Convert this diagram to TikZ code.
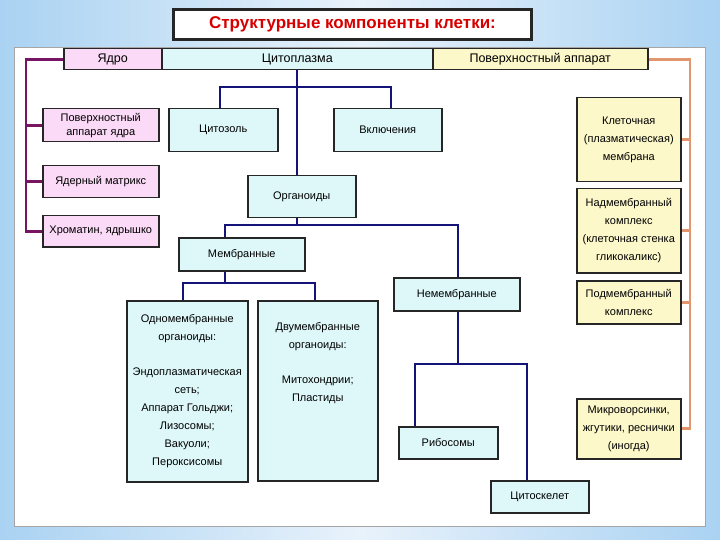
\documentclass[tikz,border=0pt]{standalone}
\usepackage{fontspec}
\setmainfont{Liberation Sans}
\usepackage{xcolor}
\definecolor{bgside}{RGB}{170,210,242}
\definecolor{bgmid}{RGB}{232,242,251}
\definecolor{nucpink}{RGB}{250,218,246}
\definecolor{cytocyan}{RGB}{222,248,250}
\definecolor{surfyellow}{RGB}{252,248,202}
\definecolor{nucpurple}{RGB}{120,20,100}
\definecolor{cytoblue}{RGB}{20,20,120}
\definecolor{surforange}{RGB}{226,150,110}
\definecolor{titlered}{RGB}{215,0,0}

\begin{document}
\begin{tikzpicture}[x=1pt, y=-1pt, thick,
    font=\fontsize{11}{18}\selectfont,
    box/.style={draw=black!85, line width=1.5pt, align=center, inner sep=1pt, anchor=north west},
    pinkbox/.style={box, fill=nucpink},
    cyanbox/.style={box, fill=cytocyan},
    yellowbox/.style={box, fill=surfyellow},
    headbox/.style={font=\fontsize{12.5}{15}\selectfont, minimum height=21pt},
    nucline/.style={draw=nucpurple, line width=2.8pt},
    cytoline/.style={draw=cytoblue, line width=2.8pt},
    surfline/.style={draw=surforange, line width=2.8pt}]
    % background and panel
    \shade[left color=bgside, right color=bgside, middle color=bgmid] (0,0) rectangle (720,540);
    \draw[gray!70, thin, fill=white] (14,47) rectangle (705,526);
    \node[box, fill=white, line width=3pt, minimum width=358pt, minimum height=30pt,
          font=\fontsize{17}{20}\selectfont\bfseries, text=titlered] (title) at (172,8) {Структурные компоненты клетки:};
    % header bar
    \node[pinkbox, headbox, minimum width=98pt] (hdrNuc) at (63,48) {Ядро};
    \node[cyanbox, headbox, minimum width=271pt] (hdrCyto) at (161,48) {Цитоплазма};
    \node[yellowbox, headbox, minimum width=215pt] (hdrSurf) at (432,48) {Поверхностный аппарат};
    % nucleus
    \node[pinkbox, minimum width=116pt, minimum height=33pt, font=\fontsize{11}{14}\selectfont] (nucSurf) at (42,108) {Поверхностный\\аппарат ядра};
    \node[pinkbox, minimum width=116pt, minimum height=32pt] (nucMatrix) at (42,165) {Ядерный матрикс};
    \node[pinkbox, minimum width=116pt, minimum height=31pt] (chromatin) at (42,215) {Хроматин, ядрышко};
    % cytoplasm
    \node[cyanbox, minimum width=109pt, minimum height=43pt] (cytosol) at (168,108) {Цитозоль};
    \node[cyanbox, minimum width=108pt, minimum height=43pt] (inclusions) at (333,108) {Включения};
    \node[cyanbox, minimum width=108pt, minimum height=42pt] (organelles) at (247,175) {Органоиды};
    \node[cyanbox, minimum width=126pt, minimum height=33pt] (membr) at (178,237) {Мембранные};
    \node[cyanbox, minimum width=121pt, minimum height=181pt] (single) at (126,300)
        {Одномембранные\\органоиды:\\[17pt]Эндоплазматическая\\сеть;\\Аппарат Гольджи;\\Лизосомы;\\Вакуоли;\\Пероксисомы};
    \node[cyanbox, minimum width=120pt, minimum height=180pt] (double) at (257,300)
        {Двумембранные\\органоиды:\\[17pt]Митохондрии;\\Пластиды\\[40pt]\mbox{}};
    \node[cyanbox, minimum width=126pt, minimum height=33pt] (nonmembr) at (393,277) {Немембранные};
    \node[cyanbox, minimum width=99pt, minimum height=32pt] (ribosomes) at (398,426) {Рибосомы};
    \node[cyanbox, minimum width=98pt, minimum height=32pt] (cytoskel) at (490,480) {Цитоскелет};
    % surface apparatus
    \node[yellowbox, minimum width=104pt, minimum height=84pt] (cellMembr) at (576,97) {Клеточная\\(плазматическая)\\мембрана};
    \node[yellowbox, minimum width=104pt, minimum height=84pt] (supraMembr) at (576,188) {Надмембранный\\комплекс\\(клеточная стенка\\гликокаликс)};
    \node[yellowbox, minimum width=104pt, minimum height=43pt] (subMembr) at (576,280) {Подмембранный\\комплекс};
    \node[yellowbox, minimum width=104pt, minimum height=60pt] (microvilli) at (576,398) {Микроворсинки,\\жгутики, реснички\\(иногда)};
    % bus points
    \coordinate (nucBus) at (26,0);
    \coordinate (surfBus) at (690,0);
    \coordinate (cytoFork) at (297,87);
    \coordinate (cytosolX) at (220,0);
    \coordinate (inclX) at (391,0);
    \coordinate (memLine) at (225,225);
    \coordinate (memFork) at (225,283);
    \coordinate (singleX) at (183,0);
    \coordinate (doubleX) at (315,0);
    \coordinate (riboX) at (415,364);
    \coordinate (skelX) at (527,364);
    \coordinate (nonX) at (458,0);
    % nucleus connectors
    \draw[nucline] (hdrNuc.west) -| (chromatin.west -| nucBus) -- (chromatin.west);
    \draw[nucline] (nucSurf.west -| nucBus) -- (nucSurf.west);
    \draw[nucline] (nucMatrix.west -| nucBus) -- (nucMatrix.west);
    % cytoplasm connectors
    \draw[cytoline] (hdrCyto.south -| cytoFork) -- (organelles.north -| cytoFork);
    \draw[cytoline] (cytosol.north -| cytosolX) |- (cytoFork) -| (inclusions.north -| inclX);
    \draw[cytoline] (organelles.south -| cytoFork) -- (cytoFork |- memLine);
    \draw[cytoline] (membr.north -| memLine) -- (memLine) -- (memLine -| nonX) -- (nonmembr.north -| nonX);
    \draw[cytoline] (membr.south -| memLine) -- (memFork);
    \draw[cytoline] (single.north -| singleX) |- (memFork) -| (double.north -| doubleX);
    \draw[cytoline] (nonmembr.south -| nonX) -- (riboX -| nonX);
    \draw[cytoline] (ribosomes.north -| riboX) -- (riboX) -- (skelX) -- (cytoskel.north -| skelX);
    % surface connectors
    \draw[surfline] (hdrSurf.east) -| (microvilli.east -| surfBus) -- (microvilli.east);
    \draw[surfline] (cellMembr.east -| surfBus) -- (cellMembr.east);
    \draw[surfline] (supraMembr.east -| surfBus) -- (supraMembr.east);
    \draw[surfline] (subMembr.east -| surfBus) -- (subMembr.east);
\end{tikzpicture}
\end{document}
